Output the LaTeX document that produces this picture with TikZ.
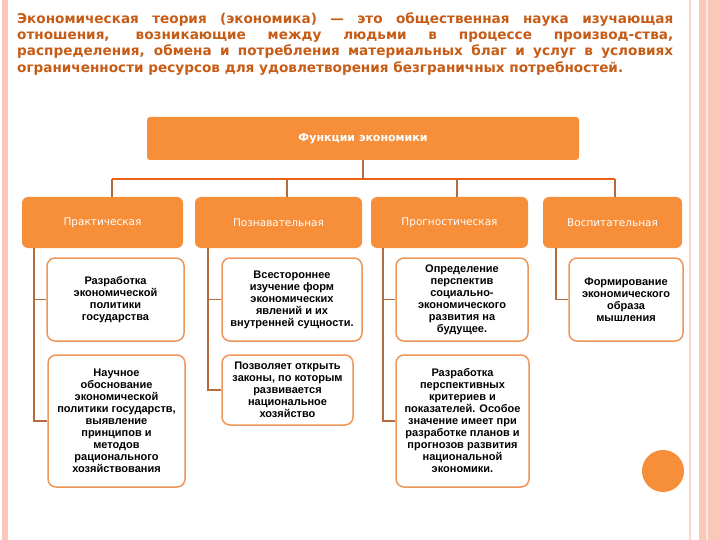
\documentclass[tikz,border=0pt]{standalone}
\usepackage{fontspec}
\setmainfont{Liberation Sans}
\newfontfamily\dejavu{DejaVu Sans}
\usetikzlibrary{positioning}

\definecolor{orangefill}{RGB}{247,142,58}
\definecolor{titlecol}{RGB}{198,92,22}
\definecolor{buscol}{RGB}{232,100,20}
\definecolor{stemcol}{RGB}{180,108,62}
\definecolor{framecol}{RGB}{250,200,182}
\definecolor{edgecol}{RGB}{236,150,90}

\begin{document}
\begin{tikzpicture}[x=1pt, y=-1pt,
    titletext/.style = {inner sep=0pt, text=titlecol, align=justify, text width=656pt,
      font=\dejavu\bfseries\fontsize{13.6}{16.2}\selectfont},
    fnbox/.style = {fill=orangefill, rounded corners=3pt, minimum width=432pt,
      minimum height=43pt, text=white, font=\dejavu\bfseries\fontsize{11}{13}\selectfont},
    kindbox/.style = {fill=orangefill, rounded corners=6pt, minimum height=51pt,
      text=white, font=\dejavu\fontsize{10.5}{12}\selectfont},
    detail/.style = {draw=edgecol, line width=1.5pt, fill=white, rounded corners=8pt,
      align=center, inner sep=1pt, font=\bfseries\fontsize{11}{12}\selectfont},
    bus/.style = {draw=buscol, line width=1.5pt},
    drop/.style = {draw=stemcol, line width=1.2pt},
    stem/.style = {draw=stemcol, line width=1.2pt}]
  \useasboundingbox (0,0) rectangle (720,540);

  % page frame
  \fill[framecol] (2,0) rectangle (8,540);
  \fill[framecol!70] (689,0) rectangle (691,540);
  \fill[framecol] (699,0) rectangle (720,540);
  \fill[framecol!40] (706,0) rectangle (708,540);

  % title
  \node[titletext, anchor=north west] (title) at (17,12.5) {%
    Экономическая теория (экономика) — это общественная наука изучающая\linebreak
    отношения, возникающие между людьми в процессе производ-ства,\linebreak
    распределения, обмена и потребления материальных благ и услуг в условиях\linebreak
    ограниченности ресурсов для удовлетворения безграничных потребностей.};

  % functions
  \node[fnbox] (fn) at (363,138.5) {Функции экономики};
  \node[kindbox, minimum width=161pt] (k1) at (102.5,222.5) {Практическая};
  \node[kindbox, minimum width=167pt] (k2) at (278.5,222.5) {Познавательная};
  \node[kindbox, minimum width=157pt] (k3) at (449.5,222.5) {Прогностическая};
  \node[kindbox, minimum width=139pt] (k4) at (612.5,222.5) {Воспитательная};

  % details
  \node[detail, minimum width=137pt, minimum height=83pt] (d1a) at (115.5,299.5)
    {Разработка\\экономической\\политики\\государства};
  \node[detail, minimum width=140pt, minimum height=83pt] (d2a) at (292,299.5)
    {Всестороннее\\изучение форм\\экономических\\явлений и их\\внутренней сущности.};
  \node[detail, minimum width=132pt, minimum height=83pt] (d3a) at (462,299.5)
    {Определение\\перспектив\\социально-\\экономического\\развития на\\будущее.};
  \node[detail, minimum width=114pt, minimum height=83pt] (d4a) at (626,299.5)
    {Формирование\\экономического\\образа\\мышления};
  \node[detail, minimum width=137pt, minimum height=132pt] (d1b) at (116.5,421)
    {Научное\\обоснование\\экономической\\политики государств,\\выявление\\принципов и\\методов\\рационального\\хозяйствования};
  \node[detail, minimum width=131pt, minimum height=70pt] (d2b) at (287.5,390)
    {Позволяет открыть\\законы, по которым\\развивается\\национальное\\хозяйство};
  \node[detail, minimum width=133pt, minimum height=132pt] (d3b) at (462.5,421)
    {Разработка\\перспективных\\критериев и\\показателей. Особое\\значение имеет при\\разработке планов и\\прогнозов развития\\национальной\\экономики.};

  % connectors
  \coordinate (hub) at (363,179);
  \coordinate (j1) at ([xshift=9.5pt]k1.north);
  \coordinate (j2) at ([xshift=8.5pt]k2.north);
  \coordinate (j3) at ([xshift=7.5pt]k3.north);
  \coordinate (j4) at ([xshift=2.5pt]k4.north);
  \draw[drop] (fn.south) -- (hub);
  \foreach \j in {1,...,4}
    \draw[drop] (j\j) -- (j\j |- hub);
  \draw[bus] (j1 |- hub) -- (j4 |- hub);

  \coordinate (s1) at (34,248);
  \coordinate (s2) at (208,248);
  \coordinate (s3) at (383,248);
  \coordinate (s4) at (556,248);
  \draw[stem] (s1) |- (d1b.west);
  \draw[stem] (s1 |- d1a.west) -- (d1a.west);
  \draw[stem] (s2) |- (d2b.west);
  \draw[stem] (s2 |- d2a.west) -- (d2a.west);
  \draw[stem] (s3) |- (d3b.west);
  \draw[stem] (s3 |- d3a.west) -- (d3a.west);
  \draw[stem] (s4) |- (d4a.west);

  \fill[orangefill] (663,471) circle (21pt);
\end{tikzpicture}
\end{document}
